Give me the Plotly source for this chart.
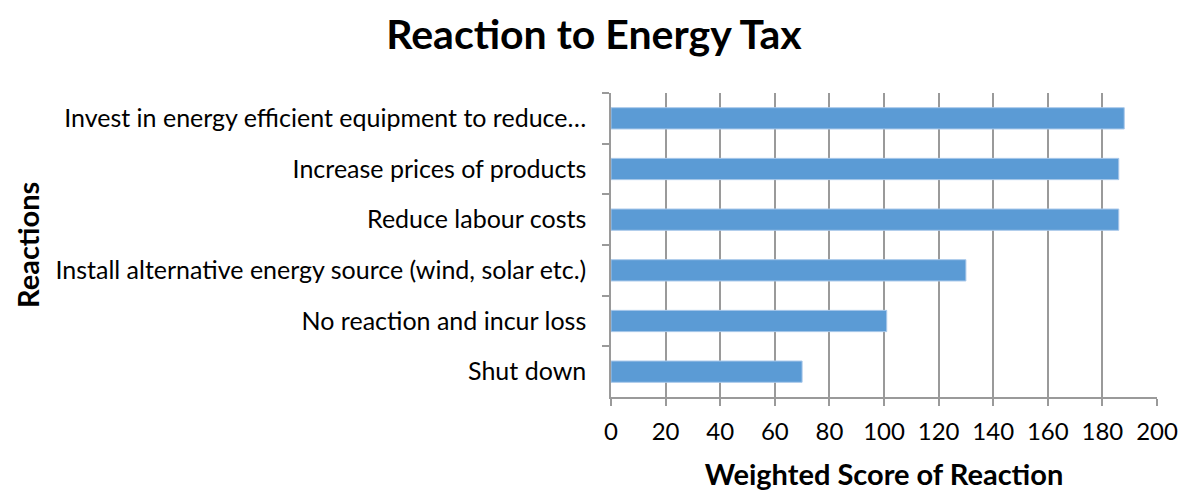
import plotly.graph_objects as go

reactions = [
    "Invest in energy efficient equipment to reduce…",
    "Increase prices of products",
    "Reduce labour costs",
    "Install alternative energy source (wind, solar etc.)",
    "No reaction and incur loss",
    "Shut down",
]
scores = [188, 186, 186, 130, 101, 70]
x_ticks = [0, 20, 40, 60, 80, 100, 120, 140, 160, 180, 200]

FONT = "Lato"
W, H = 1188, 492
L, R, T, B = 603, 39, 85, 103
plot_w = W - L - R
GRID = "#9a9a9a"

fig = go.Figure(
    go.Bar(
        y=reactions,
        x=scores,
        orientation="h",
        marker=dict(color="#5B9BD5", line=dict(color="#A9C8EA", width=1)),
        width=0.42,
    )
)

fig.update_layout(
    width=W,
    height=H,
    paper_bgcolor="white",
    plot_bgcolor="white",
    margin=dict(l=L, r=R, t=T, b=B),
    showlegend=False,
    font=dict(family=FONT, color="black"),
    title=dict(
        text="<b>Reaction to Energy Tax</b>",
        x=(594 - 8) / W,
        xanchor="center",
        y=1 - 27 / H,
        yanchor="middle",
        font=dict(family=FONT, size=41, color="black"),
    ),
    annotations=[
        dict(
            text="<b>Reactions</b>",
            xref="paper",
            yref="paper",
            x=(19 - L) / plot_w,
            y=0.5,
            xanchor="center",
            yanchor="middle",
            textangle=-90,
            showarrow=False,
            font=dict(family=FONT, size=29, color="black"),
        )
    ],
)

fig.update_xaxes(
    range=[0, 200],
    tickvals=x_ticks,
    ticks="outside",
    ticklen=7,
    tickwidth=1.5,
    tickcolor=GRID,
    showgrid=True,
    gridcolor=GRID,
    gridwidth=1.5,
    showline=True,
    linecolor=GRID,
    linewidth=1.5,
    zeroline=False,
    automargin=False,
    ticklabelstandoff=5,
    tickfont=dict(family=FONT, size=24, color="black"),
    title=dict(
        text="<b>Weighted Score of Reaction</b>",
        font=dict(family=FONT, size=29, color="black"),
        standoff=21,
    ),
)

fig.update_yaxes(
    categoryorder="array",
    categoryarray=reactions,
    autorange="reversed",
    ticks="outside",
    tickson="boundaries",
    ticklen=7,
    tickwidth=1.5,
    tickcolor=GRID,
    showgrid=False,
    showline=True,
    linecolor=GRID,
    linewidth=1.5,
    automargin=False,
    ticklabelstandoff=18,
    tickfont=dict(family=FONT, size=25, color="black"),
)

fig.write_html("out.html")
